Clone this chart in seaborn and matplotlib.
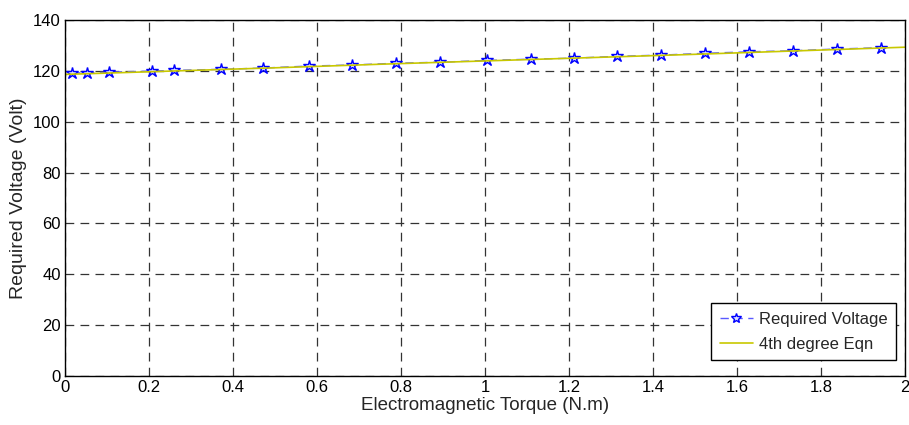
import matplotlib
matplotlib.use("Agg")
import matplotlib.pyplot as plt
import seaborn as sns
import pandas as pd

torque = [0.017, 0.052, 0.105, 0.207, 0.26, 0.371, 0.471, 0.581, 0.683, 0.788, 0.893,
          1.005, 1.11, 1.212, 1.314, 1.419, 1.524, 1.629, 1.733, 1.838, 1.943]
voltage = [119.2, 119.2, 119.5, 119.9, 120.2, 120.6, 121.1, 121.9, 122.3, 123.0, 123.4,
           124.1, 124.6, 125.0, 125.7, 126.2, 126.9, 127.5, 127.9, 128.6, 129.1]
fit_torque = [0.0, 0.25, 0.5, 0.75, 1.0, 1.25, 1.5, 1.75, 2.0]
fit_voltage = [118.6, 119.9, 121.2, 122.6, 123.9, 125.2, 126.5, 127.9, 129.3]
x_ticks = [0, 0.2, 0.4, 0.6, 0.8, 1, 1.2, 1.4, 1.6, 1.8, 2]
x_tick_labels = ["0", "0.2", "0.4", "0.6", "0.8", "1", "1.2", "1.4", "1.6", "1.8", "2"]
y_ticks = [0, 20, 40, 60, 80, 100, 120, 140]

sns.set_style("white")
plt.rcParams['font.family'] = ['Liberation Sans', 'DejaVu Sans']

fig = plt.figure(figsize=(9.09, 4.25), dpi=100)
ax = fig.add_axes([0.0715, 0.115, 0.924, 0.838])

df1 = pd.DataFrame({"x": torque, "y": voltage})
df2 = pd.DataFrame({"x": fit_torque, "y": fit_voltage})

sns.lineplot(data=df1, x="x", y="y", ax=ax, color="#5a5aff", linestyle=(0, (6, 4)),
             linewidth=1.0, marker="*", markersize=9, markeredgecolor="blue",
             markerfacecolor="#dde0ff", markeredgewidth=1.0, label="Required Voltage",
             sort=False)
sns.lineplot(data=df2, x="x", y="y", ax=ax, color="#c8c800", linewidth=1.2,
             label="4th degree Eqn", sort=False)

ax.set_xlim(0, 2)
ax.set_ylim(0, 140)
ax.set_xticks(x_ticks)
ax.set_xticklabels(x_tick_labels)
ax.set_yticks(y_ticks)
ax.tick_params(direction="in", length=4, labelsize=12, colors="black", pad=3)
ax.grid(True, color="#333333", linestyle=(0, (7, 5)), linewidth=0.9)
for s in ax.spines.values():
    s.set_color("black")
    s.set_linewidth(1.0)
ax.set_xlabel("Electromagnetic Torque (N.m)", fontsize=13.5, labelpad=1)
ax.set_ylabel("Required Voltage (Volt)", fontsize=14, labelpad=4)

leg = ax.legend(loc="lower right", bbox_to_anchor=(0.989, 0.045), fontsize=12,
                frameon=True, fancybox=False, edgecolor="black", framealpha=1,
                borderpad=0.5, handlelength=2.0, handletextpad=0.35,
                labelspacing=0.6, borderaxespad=0, markerscale=0.8)
leg.get_frame().set_linewidth(1.0)

fig.savefig("out.png", dpi=100)
